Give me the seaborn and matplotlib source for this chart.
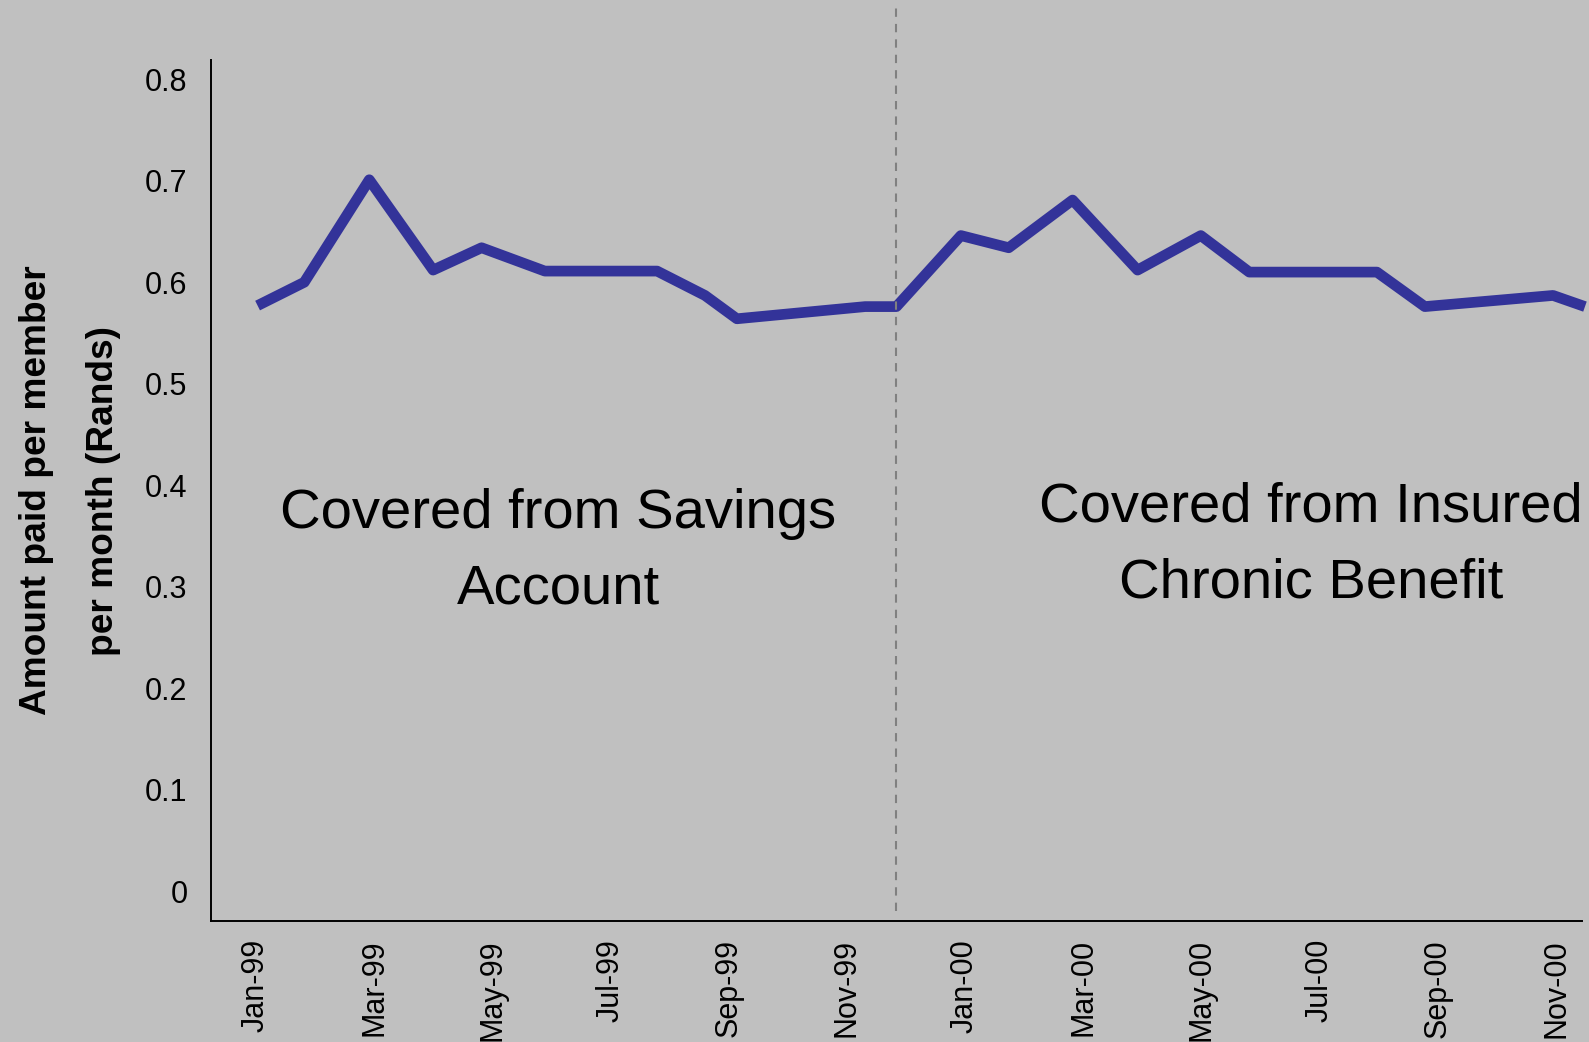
import pandas as pd
import matplotlib.pyplot as plt
import seaborn as sns

# ---- data ----
# x = months since Jan-99 (vertex positions, fractional as drawn), y = Rands
month_pos = [0.03, 0.82, 1.92, 3.00, 3.82, 4.89, 6.79, 7.60, 8.14, 10.31, 10.84,
             11.93, 12.74, 13.82, 14.92, 15.99, 16.81, 18.97, 19.78, 21.95, 22.49]
amount = [0.577, 0.600, 0.701, 0.612, 0.634, 0.611, 0.611, 0.587, 0.564, 0.576, 0.576,
          0.646, 0.634, 0.681, 0.612, 0.646, 0.610, 0.610, 0.576, 0.587, 0.576]

tick_months = [0, 2, 4, 6, 8, 10, 12, 14, 16, 18, 20, 22]
tick_labels = ["Jan-99", "Mar-99", "May-99", "Jul-99", "Sep-99", "Nov-99",
               "Jan-00", "Mar-00", "May-00", "Jul-00", "Sep-00", "Nov-00"]
y_ticks = [0, 0.1, 0.2, 0.3, 0.4, 0.5, 0.6, 0.7, 0.8]
y_tick_labels = ["0", "0.1", "0.2", "0.3", "0.4", "0.5", "0.6", "0.7", "0.8"]

switch_month = 10.84  # Dec-99: moved from savings account to insured benefit
left_note = ["Covered from Savings", "Account"]
right_note = ["Covered from Insured", "Chronic Benefit"]

df = pd.DataFrame({"month": month_pos, "amount": amount})

# ---- style ----
BG = "#C0C0C0"
sns.set_theme(style="white")
plt.rcParams["font.family"] = ["Liberation Sans", "DejaVu Sans"]

fig = plt.figure(figsize=(15.89, 10.42), dpi=100, facecolor=BG)
ax = fig.add_axes([0.1328, 0.1161, 0.8628, 0.8263], facecolor=BG)

sns.lineplot(data=df, x="month", y="amount", ax=ax, color="#333399",
             linewidth=7.7, solid_capstyle="butt", solid_joinstyle="round")
ax.lines[-1].set_clip_on(False)

# divider between the two funding periods
ax.axvline(switch_month, ymin=0.012, ymax=1.06, color="#808080",
           linewidth=1.5, dashes=(4, 3.4), clip_on=False)

ax.set_xlim(-0.758, 22.44)
ax.set_ylim(-0.0295, 0.819)

ax.set_xticks(tick_months)
ax.set_xticklabels(tick_labels, rotation=90, fontsize=22, va="top")
ax.set_yticks(y_ticks)
ax.set_yticklabels(y_tick_labels, fontsize=22)
ax.tick_params(axis="x", length=0, pad=13, colors="black")
ax.tick_params(axis="y", length=0, pad=17, colors="black")

ax.set_xlabel("")
ax.set_ylabel("Amount paid per member\nper month (Rands)", fontsize=26.7,
              fontweight="bold", linespacing=2.2, labelpad=17, color="black")

for side in ["top", "right"]:
    ax.spines[side].set_visible(False)
for side in ["left", "bottom"]:
    ax.spines[side].set_color("black")
    ax.spines[side].set_linewidth(1.4)

# period notes (no narrow font installed, so a smaller regular size keeps the width)
for i, line in enumerate(left_note):
    fig.text(558.5 / 1589, 1 - (528 + 76 * i) / 1042, line, ha="center",
             va="baseline", fontsize=40.5, color="black")
for i, line in enumerate(right_note):
    fig.text(1310.7 / 1589, 1 - (522 + 75 * i) / 1042, line, ha="center",
             va="baseline", fontsize=40.5, color="black")

fig.savefig("out.png", dpi=100, facecolor=BG)
